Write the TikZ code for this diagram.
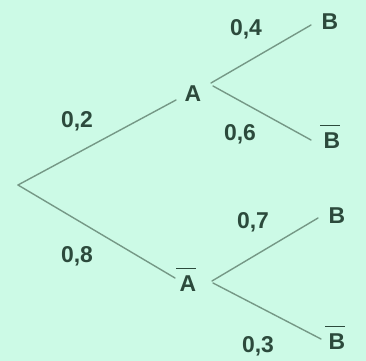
\documentclass[tikz,border=0pt]{standalone}
\usepackage{fontspec}
\setmainfont{Liberation Sans}
\definecolor{bgc}{HTML}{CCFAE6}
\definecolor{txc}{HTML}{2C4A3C}
\definecolor{lnc}{HTML}{759886}
\newcommand{\ovb}[1]{\leavevmode\hbox{\kern-0.15em\vbox{\hrule height 1.7pt\kern 0.26em\hbox{\kern0.15em#1}}}}
\begin{document}
\begin{tikzpicture}[x=1bp,y=-1bp,
  lab/.style={anchor=base,inner sep=0pt,text=txc,font=\fontsize{23}{23}\selectfont\bfseries},
  branch/.style={draw=lnc,line width=1.4bp,line cap=round}]
\fill[bgc] (0,0) rectangle (366,361);
\useasboundingbox (0,0) rectangle (366,361);
% event nodes
\node[lab] (A)   at (193,101) {A};
\node[lab] (Ab)  at (188,291) {\ovb{A}};
\node[lab] (B1)  at (330,29)  {B};
\node[lab] (Bb1) at (332,148) {\ovb{B}};
\node[lab] (B2)  at (337,223) {B};
\node[lab] (Bb2) at (337,349) {\ovb{B}};
% probabilities
\node[lab] (p2) at (77,127) {0,2};
\node[lab] (p8) at (77,262) {0,8};
\node[lab] (p4) at (246,35) {0,4};
\node[lab] (p6) at (240,140) {0,6};
\node[lab] (p7) at (253,228) {0,7};
\node[lab] (p3) at (258,352) {0,3};
% branch ends
\coordinate (root) at (18,185);
\coordinate (Ain) at (176,100);
\coordinate (Abin) at (175,278);
\coordinate (Aout1) at (211,83);
\coordinate (Aout2) at (213,86);
\coordinate (About1) at (212,281);
\coordinate (About2) at (213,283);
\coordinate (B1in) at (311,25);
\coordinate (Bb1in) at (311,140);
\coordinate (B2in) at (318,218);
\coordinate (Bb2in) at (321,339);
\draw[branch] (root) -- (Ain);
\draw[branch] (root) -- (Abin);
\draw[branch] (Aout1) -- (B1in);
\draw[branch] (Aout2) -- (Bb1in);
\draw[branch] (About1) -- (B2in);
\draw[branch] (About2) -- (Bb2in);
\end{tikzpicture}
\end{document}
